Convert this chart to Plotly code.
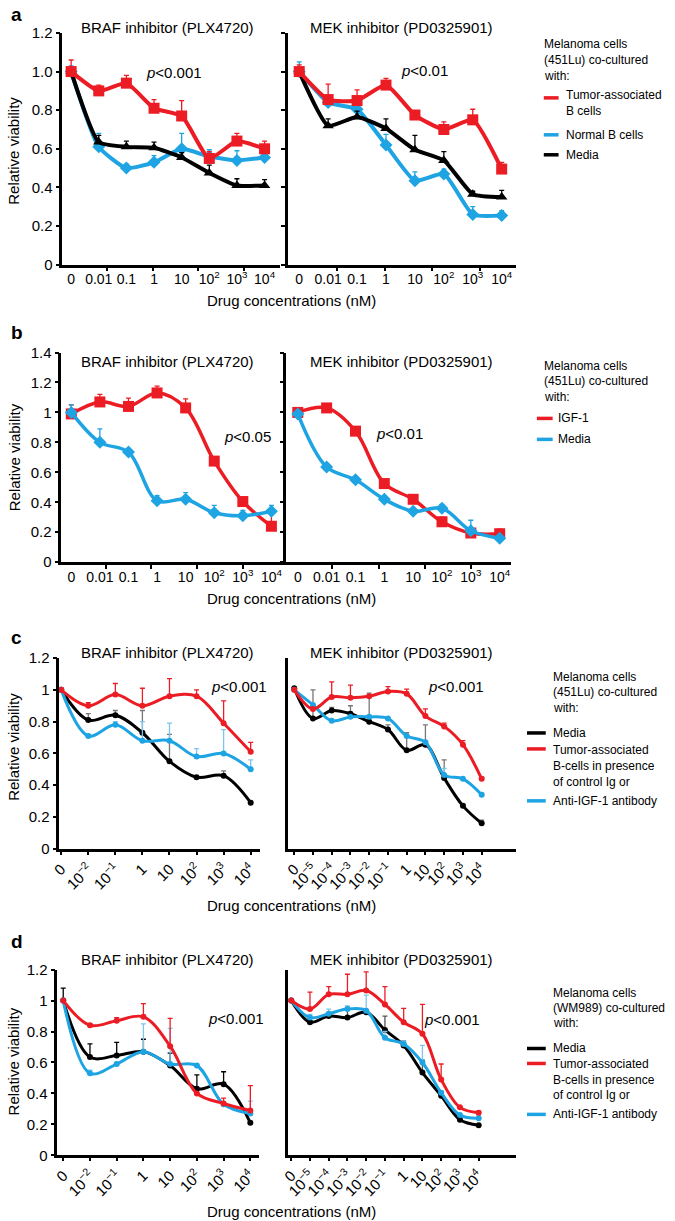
import plotly.graph_objects as go

RED = "#ec1c24"
BLUE = "#1ea4e2"
BLACK = "#000000"
FONT = "Liberation Sans, Arial, sans-serif"

# ---------------- categories / tick labels ----------------
cats_ab = ["0", "0.01", "0.1", "1", "10", "10<sup>2</sup>", "10<sup>3</sup>", "10<sup>4</sup>"]
cats_braf_cd = ["0", "10<sup>−2</sup>", "10<sup>−1</sup>", "1", "10",
                "10<sup>2</sup>", "10<sup>3</sup>", "10<sup>4</sup>"]
cats_mek_cd = ["0", "10<sup>−5</sup>", "10<sup>−4</sup>", "10<sup>−3</sup>", "10<sup>−2</sup>",
               "10<sup>−1</sup>", "1", "10", "10<sup>2</sup>", "10<sup>3</sup>", "10<sup>4</sup>"]

yticks_a = [0, 0.2, 0.4, 0.6, 0.8, 1.0, 1.2]
yticklabels_a = ["0", "0.2", "0.4", "0.6", "0.8", "1.0", "1.2"]
yticks_b = [0, 0.2, 0.4, 0.6, 0.8, 1.0, 1.2, 1.4]
yticklabels_b = ["0", "0.2", "0.4", "0.6", "0.8", "1", "1.2", "1.4"]
yticks_cd = [0, 0.2, 0.4, 0.6, 0.8, 1.0, 1.2]
yticklabels_cd = ["0", "0.2", "0.4", "0.6", "0.8", "1", "1.2"]

# ---------------- panel a ----------------
a_braf_tumor = [1.00, 0.90, 0.94, 0.81, 0.77, 0.55, 0.64, 0.60]
a_braf_tumor_err = [0.06, 0.03, 0.04, 0.045, 0.08, 0.035, 0.04, 0.04]
a_braf_normal = [1.00, 0.61, 0.50, 0.53, 0.60, 0.56, 0.54, 0.555]
a_braf_normal_err = [0.03, 0.07, 0.02, 0.035, 0.08, 0.035, 0.05, 0.015]
a_braf_media = [1.00, 0.635, 0.61, 0.605, 0.555, 0.475, 0.41, 0.41]
a_braf_media_err = [0.0, 0.035, 0.03, 0.03, 0.025, 0.04, 0.035, 0.03]

a_mek_tumor = [1.00, 0.855, 0.85, 0.93, 0.775, 0.70, 0.75, 0.495]
a_mek_tumor_err = [0.035, 0.08, 0.055, 0.035, 0.015, 0.04, 0.055, 0.035]
a_mek_normal = [1.00, 0.84, 0.805, 0.62, 0.435, 0.47, 0.26, 0.255]
a_mek_normal_err = [0.05, 0.0, 0.0, 0.055, 0.045, 0.025, 0.04, 0.025]
a_mek_media = [1.00, 0.72, 0.765, 0.705, 0.595, 0.54, 0.365, 0.35]
a_mek_media_err = [0.0, 0.035, 0.03, 0.05, 0.075, 0.045, 0.015, 0.035]

# ---------------- panel b ----------------
b_braf_igf = [0.99, 1.07, 1.04, 1.13, 1.03, 0.675, 0.405, 0.24]
b_braf_igf_err = [0.06, 0.05, 0.055, 0.045, 0.06, 0.025, 0.02, 0.08]
b_braf_media = [1.00, 0.80, 0.735, 0.41, 0.42, 0.33, 0.31, 0.34]
b_braf_media_err = [0.05, 0.09, 0.02, 0.035, 0.045, 0.05, 0.035, 0.04]

b_mek_igf = [1.00, 1.03, 0.875, 0.525, 0.42, 0.27, 0.195, 0.19]
b_mek_igf_err = [0.02, 0.02, 0.02, 0.02, 0.02, 0.03, 0.02, 0.03]
b_mek_media = [0.99, 0.635, 0.55, 0.42, 0.34, 0.36, 0.21, 0.16]
b_mek_media_err = [0.02, 0.02, 0.01, 0.02, 0.02, 0.025, 0.07, 0.02]

# ---------------- panel c ----------------
c_braf_media = [1.00, 0.81, 0.84, 0.73, 0.55, 0.45, 0.46, 0.29]
c_braf_media_err = [0.0, 0.04, 0.03, 0.14, 0.17, 0.01, 0.03, 0.01]
c_braf_tumor = [1.00, 0.90, 0.97, 0.90, 0.96, 0.96, 0.79, 0.61]
c_braf_tumor_err = [0.0, 0.02, 0.07, 0.11, 0.11, 0.04, 0.14, 0.06]
c_braf_anti = [1.00, 0.71, 0.78, 0.68, 0.68, 0.58, 0.60, 0.50]
c_braf_anti_err = [0.0, 0.01, 0.02, 0.12, 0.11, 0.05, 0.15, 0.06]

c_mek_media = [1.01, 0.82, 0.87, 0.85, 0.80, 0.75, 0.62, 0.655, 0.445, 0.27, 0.16]
c_mek_media_err = [0.0, 0.18, 0.02, 0.05, 0.18, 0.03, 0.11, 0.125, 0.115, 0.01, 0.02]
c_mek_tumor = [1.00, 0.88, 0.955, 0.95, 0.96, 0.99, 0.975, 0.835, 0.77, 0.655, 0.44]
c_mek_tumor_err = [0.0, 0.0, 0.095, 0.08, 0.0, 0.03, 0.03, 0.045, 0.02, 0.025, 0.01]
c_mek_anti = [1.00, 0.905, 0.805, 0.83, 0.83, 0.82, 0.71, 0.67, 0.465, 0.44, 0.34]
c_mek_anti_err = [0.0, 0.0, 0.0, 0.0, 0.0, 0.0, 0.01, 0.0, 0.04, 0.0, 0.01]

# ---------------- panel d ----------------
d_braf_media = [1.00, 0.635, 0.645, 0.67, 0.58, 0.43, 0.46, 0.21]
d_braf_media_err = [0.08, 0.085, 0.085, 0.08, 0.08, 0.09, 0.08, 0.0]
d_braf_tumor = [1.00, 0.84, 0.87, 0.895, 0.705, 0.40, 0.335, 0.29]
d_braf_tumor_err = [0.0, 0.01, 0.02, 0.085, 0.18, 0.0, 0.035, 0.16]
d_braf_anti = [1.00, 0.53, 0.59, 0.67, 0.59, 0.58, 0.33, 0.27]
d_braf_anti_err = [0.0, 0.02, 0.01, 0.18, 0.23, 0.0, 0.0, 0.08]

d_mek_media = [1.00, 0.86, 0.90, 0.89, 0.925, 0.81, 0.71, 0.535, 0.385, 0.23, 0.195]
d_mek_media_err = [0.0, 0.01, 0.02, 0.06, 0.01, 0.09, 0.03, 0.08, 0.01, 0.0, 0.0]
d_mek_tumor = [1.00, 0.945, 1.04, 1.04, 1.065, 0.975, 0.86, 0.785, 0.49, 0.31, 0.275]
d_mek_tumor_err = [0.0, 0.11, 0.05, 0.13, 0.12, 0.115, 0.09, 0.19, 0.10, 0.0, 0.01]
d_mek_anti = [1.00, 0.89, 0.915, 0.945, 0.935, 0.76, 0.72, 0.60, 0.405, 0.26, 0.24]
d_mek_anti_err = [0.0, 0.02, 0.03, 0.02, 0.10, 0.04, 0.02, 0.11, 0.01, 0.0, 0.02]

W, H = 675, 1221


def X(px):
    return (px - 4) / W


def Y(py):
    return 1 - ((py - 8) / 0.9875) / H


fig = go.Figure()


def add_series(idx, cats, y, err, color, symbol, size, lw, smoothing, errcolor=None):
    xs = list(range(len(cats)))
    fig.add_trace(go.Scatter(
        x=xs, y=y, xaxis="x%d" % idx, yaxis="y%d" % idx,
        mode="lines+markers",
        line=dict(color=color, width=lw, shape="spline", smoothing=smoothing),
        marker=dict(color=color, symbol=symbol, size=size, line=dict(width=0)),
        error_y=dict(type="data", symmetric=False,
                     array=[e if e > 0 else None for e in err],
                     arrayminus=[0] * len(err),
                     color=errcolor or color, thickness=1.3, width=2.5),
        cliponaxis=False, showlegend=False, hoverinfo="skip"))


# panel a
add_series(1, cats_ab, a_braf_normal, a_braf_normal_err, BLUE, "diamond", 10, 4, 0.5)
add_series(1, cats_ab, a_braf_media, a_braf_media_err, BLACK, "triangle-up", 10, 4, 0.5)
add_series(1, cats_ab, a_braf_tumor, a_braf_tumor_err, RED, "square", 11, 4, 0.5)
add_series(2, cats_ab, a_mek_normal, a_mek_normal_err, BLUE, "diamond", 10, 4, 0.5)
add_series(2, cats_ab, a_mek_media, a_mek_media_err, BLACK, "triangle-up", 10, 4, 0.5)
add_series(2, cats_ab, a_mek_tumor, a_mek_tumor_err, RED, "square", 11, 4, 0.5)
# panel b
add_series(3, cats_ab, b_braf_igf, b_braf_igf_err, RED, "square", 11, 3.5, 1.0)
add_series(3, cats_ab, b_braf_media, b_braf_media_err, BLUE, "diamond", 10, 3.5, 1.0)
add_series(4, cats_ab, b_mek_igf, b_mek_igf_err, RED, "square", 11, 3.5, 1.0)
add_series(4, cats_ab, b_mek_media, b_mek_media_err, BLUE, "diamond", 10, 3.5, 1.0)
# panel c
add_series(5, cats_braf_cd, c_braf_media, c_braf_media_err, BLACK, "circle", 6, 3, 1.0, "#777777")
add_series(5, cats_braf_cd, c_braf_anti, c_braf_anti_err, BLUE, "circle", 6, 3, 1.0, "#7fc4ec")
add_series(5, cats_braf_cd, c_braf_tumor, c_braf_tumor_err, RED, "circle", 6, 3, 1.0)
add_series(6, cats_mek_cd, c_mek_media, c_mek_media_err, BLACK, "circle", 6, 3, 1.0, "#777777")
add_series(6, cats_mek_cd, c_mek_anti, c_mek_anti_err, BLUE, "circle", 6, 3, 1.0, "#7fc4ec")
add_series(6, cats_mek_cd, c_mek_tumor, c_mek_tumor_err, RED, "circle", 6, 3, 1.0)
# panel d
add_series(7, cats_braf_cd, d_braf_media, d_braf_media_err, BLACK, "circle", 6, 3, 1.0)
add_series(7, cats_braf_cd, d_braf_anti, d_braf_anti_err, BLUE, "circle", 6, 3, 1.0, "#7fc4ec")
add_series(7, cats_braf_cd, d_braf_tumor, d_braf_tumor_err, RED, "circle", 6, 3, 1.0)
add_series(8, cats_mek_cd, d_mek_media, d_mek_media_err, BLACK, "circle", 6, 3, 1.0, "#555555")
add_series(8, cats_mek_cd, d_mek_anti, d_mek_anti_err, BLUE, "circle", 6, 3, 1.0, "#7fc4ec")
add_series(8, cats_mek_cd, d_mek_tumor, d_mek_tumor_err, RED, "circle", 6, 3, 1.0)


def xcfg(px0, px1, anchor, cats, rng, angle=0, minor_vals=None):
    d = dict(domain=[X(px0), X(px1)], anchor=anchor, range=rng,
             tickmode="array", tickvals=list(range(len(cats))), ticktext=cats,
             showline=True, linecolor="black", linewidth=2.5, mirror=False,
             showgrid=False, zeroline=False, tickangle=angle,
             tickfont=dict(size=14 if minor_vals is not None else 15, color="black", family=FONT))
    if minor_vals is not None:
        d.update(ticks="")
        d["minor"] = dict(tickmode="array", tickvals=minor_vals, ticks="outside",
                          ticklen=4, tickwidth=2, tickcolor="black", showgrid=False)
    else:
        d.update(ticks="outside", ticklen=3, tickwidth=1.5, tickcolor="black")
    return d


def ycfg(py0, py1, anchor, tv, tt, labels=True, ticks=True):
    return dict(domain=[Y(py1), Y(py0)], anchor=anchor, range=[tv[0], tv[-1]],
                tickmode="array", tickvals=tv, ticktext=tt, showticklabels=labels,
                showline=True, linecolor="black", linewidth=2.5,
                ticks="outside" if ticks else "", ticklen=4, tickwidth=2, tickcolor="black",
                showgrid=False, zeroline=False,
                tickfont=dict(size=15, color="black", family=FONT))


minor_a = [1.3, 2.95, 4.6, 6.25]
minor_b = [1.2, 2.8, 4.4, 6.0]
layout = dict(
    width=W, height=H, margin=dict(l=0, r=0, t=0, b=0),
    paper_bgcolor="white", plot_bgcolor="white",
    font=dict(family=FONT, color="black"),
    xaxis=xcfg(58, 279, "y", cats_ab, [-0.32, 7.57], 0, minor_a),
    yaxis=ycfg(32, 264, "x", yticks_a, yticklabels_a),
    xaxis2=xcfg(287, 518, "y2", cats_ab, [-0.38, 7.5], 0, minor_a),
    yaxis2=ycfg(32, 264, "x2", yticks_a, yticklabels_a, labels=False),
    xaxis3=xcfg(57, 283, "y3", cats_ab, [-0.35, 7.45], 0, minor_b),
    yaxis3=ycfg(352, 562, "x3", yticks_b, yticklabels_b),
    xaxis4=xcfg(285, 513, "y4", cats_ab, [-0.4, 7.4], 0, minor_b),
    yaxis4=ycfg(352, 562, "x4", yticks_b, yticklabels_b, labels=False),
    xaxis5=xcfg(55, 258, "y5", cats_braf_cd, [-0.07, 7.33], -45),
    yaxis5=ycfg(658, 849, "x5", yticks_cd, yticklabels_cd),
    xaxis6=xcfg(287, 518, "y6", cats_mek_cd, [-0.32, 11.84], -45),
    yaxis6=ycfg(658, 849, "x6", yticks_cd, yticklabels_cd, labels=False, ticks=False),
    xaxis7=xcfg(53, 257, "y7", cats_braf_cd, [-0.22, 7.31], -45),
    yaxis7=ycfg(970, 1156, "x7", yticks_cd, yticklabels_cd),
    xaxis8=xcfg(287, 518, "y8", cats_mek_cd, [-0.16, 12.0], -45),
    yaxis8=ycfg(970, 1156, "x8", yticks_cd, yticklabels_cd, labels=False, ticks=False),
)
fig.update_layout(**layout)

ann = []


def text(px, py, s, size=15, xanchor="center", bold=False, angle=0):
    ann.append(dict(x=X(px), y=Y(py), xref="paper", yref="paper", text=s,
                    showarrow=False, xanchor=xanchor, yanchor="middle", textangle=angle,
                    font=dict(size=size, color="black", family=FONT,
                              weight="bold" if bold else "normal")))


# panel letters
for lbl, py in [("a", 14), ("b", 332), ("c", 637), ("d", 942)]:
    text(4, py, lbl, size=19, xanchor="left", bold=True)

# titles
for py in [27, 361, 652, 960]:
    text(165, py, "BRAF inhibitor (PLX4720)")
    text(402, py, "MEK inhibitor (PD0325901)")

# y titles
for py in [150, 457, 747, 1062]:
    text(9, py, "Relative viability", angle=-90)

# x titles
for py in [300, 598, 906, 1212]:
    text(290, py, "Drug concentrations (nM)")

# p-values
pv = [(171, 72, "<i>p</i>&lt;0.001"), (425, 70, "<i>p</i>&lt;0.01"),
      (246, 436, "<i>p</i>&lt;0.05"), (400, 433, "<i>p</i>&lt;0.01"),
      (237, 686, "<i>p</i>&lt;0.001"), (457, 686, "<i>p</i>&lt;0.001"),
      (234, 1019, "<i>p</i>&lt;0.001"), (453, 1020, "<i>p</i>&lt;0.001")]
for px, py, s in pv:
    text(px, py, s)

shapes = []


def legline(x0, x1, py, color):
    shapes.append(dict(type="line", xref="paper", yref="paper", x0=X(x0), x1=X(x1),
                       y0=Y(py), y1=Y(py), line=dict(color=color, width=3.5)))


LS = 12
# legend a
for s, py in [("Melanoma cells", 43), ("(451Lu) co-cultured", 59), ("with:", 75)]:
    text(544, py, s, size=LS, xanchor="left")
legline(546, 561, 97, RED)
text(566, 94, "Tumor-associated", size=LS, xanchor="left")
text(566, 110, "B cells", size=LS, xanchor="left")
legline(546, 561, 134, BLUE)
text(566, 134, "Normal B cells", size=LS, xanchor="left")
legline(546, 561, 154, BLACK)
text(566, 154, "Media", size=LS, xanchor="left")

# legend b
for s, py in [("Melanoma cells", 366), ("(451Lu) co-cultured", 381), ("with:", 397)]:
    text(544, py, s, size=LS, xanchor="left")
legline(539, 555, 418, RED)
text(558, 418, "IGF-1", size=LS, xanchor="left")
legline(539, 555, 439, BLUE)
text(558, 439, "Media", size=LS, xanchor="left")

# legend c
for s, py in [("Melanoma cells", 677), ("(451Lu) co-cultured", 692), ("with:", 708)]:
    text(553, py, s, size=LS, xanchor="left")
legline(529, 548, 733, BLACK)
text(553, 733, "Media", size=LS, xanchor="left")
legline(529, 548, 749, RED)
text(553, 750, "Tumor-associated", size=LS, xanchor="left")
text(553, 766, "B-cells in presence", size=LS, xanchor="left")
text(553, 782, "of control Ig or", size=LS, xanchor="left")
legline(529, 548, 801, BLUE)
text(553, 801, "Anti-IGF-1 antibody", size=LS, xanchor="left")

# legend d
for s, py in [("Melanoma cells", 993), ("(WM989) co-cultured", 1008), ("with:", 1023)]:
    text(553, py, s, size=LS, xanchor="left")
legline(529, 548, 1049, BLACK)
text(553, 1049, "Media", size=LS, xanchor="left")
legline(529, 548, 1064, RED)
text(553, 1065, "Tumor-associated", size=LS, xanchor="left")
text(553, 1081, "B-cells in presence", size=LS, xanchor="left")
text(553, 1096, "of control Ig or", size=LS, xanchor="left")
legline(529, 548, 1115, BLUE)
text(553, 1115, "Anti-IGF-1 antibody", size=LS, xanchor="left")

fig.update_layout(annotations=ann, shapes=shapes)
fig.write_html(
    "out.html",
    config={"displayModeBar": False},
    post_script=("document.documentElement.style.margin='0px';"
                 "document.body.style.margin='0px';"
                 "document.documentElement.style.overflow='hidden';"
                 "document.body.style.overflow='hidden';"),
)
